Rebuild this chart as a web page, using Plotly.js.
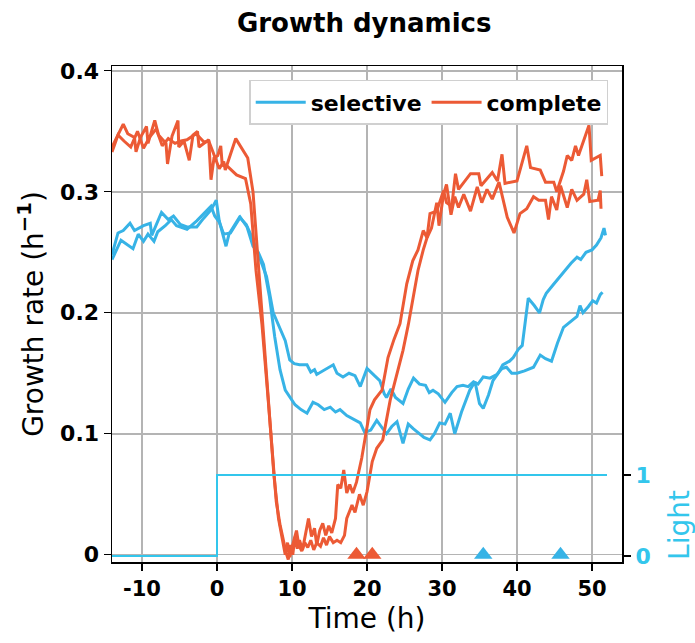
<!DOCTYPE html>
<html>
<head>
<meta charset="utf-8">
<script src="https://cdn.plot.ly/plotly-3.0.1.min.js"></script>
<style>html,body{margin:0;padding:0;background:#fff;}#chart{width:695px;height:643px;}</style>
</head>
<body>
<div id="chart"></div>
<script>
// ---- data ----
const completeA_t = [-14,-12.5,-11.9,-11.0,-10.8,-10.2,-9.4,-9.2,-8.3,-7.8,-6.8,-6.6,-6.0,-5.2,-5.1,-4.4,-3.7,-3.2,-2.6,-2.4,-1.1,-0.8,-0.4,0.1,0.5,0.7,1.4,2.1,2.6,3.8,4.5,5.2,6.0,6.8,7.3,7.9,8.4,8.8,9.2,9.5,9.8,10.1,10.4,10.7,11.0,11.4,11.8,12.2,12.6,13.0,13.3,13.7,14.1,14.5,14.9,15.3,15.8,16.1,16.5,16.9,17.3,17.7,18.1,18.6,19.3,19.7,20.4,21.0,22.0,22.8,23.6,24.4,25.3,26.1,26.8,27.5,28.0,28.4,29.3,30.2,30.6,31.3,31.8,32.2,32.7,33.8,34.9,35.2,36.7,37.4,38.0,38.4,40.0,41.3,41.8,43.1,43.8,44.9,45.3,46.2,46.7,47.3,47.8,48.2,49.6,49.9,51.1,51.3];
const completeA_v = [0.337,0.356,0.348,0.345,0.333,0.345,0.354,0.340,0.359,0.347,0.340,0.323,0.346,0.359,0.337,0.342,0.326,0.347,0.350,0.337,0.343,0.310,0.328,0.330,0.338,0.322,0.321,0.317,0.314,0.311,0.290,0.235,0.190,0.130,0.090,0.044,0.025,0.012,0.002,-0.004,0.008,0.000,0.015,0.005,0.012,0.004,0.018,0.030,0.015,0.022,0.008,0.020,0.026,0.016,0.024,0.018,0.030,0.058,0.055,0.070,0.051,0.058,0.051,0.060,0.080,0.095,0.120,0.128,0.136,0.163,0.178,0.191,0.224,0.243,0.252,0.268,0.262,0.282,0.284,0.301,0.291,0.288,0.315,0.302,0.306,0.315,0.315,0.305,0.316,0.309,0.331,0.307,0.309,0.338,0.320,0.318,0.308,0.308,0.300,0.317,0.330,0.326,0.338,0.330,0.355,0.326,0.330,0.313];

const completeB_t = [-14,-13.2,-12.4,-11.5,-10.6,-9.8,-9.0,-8.1,-7.3,-6.5,-5.6,-4.8,-4.0,-2.8,-1.7,-1.1,-0.6,0.3,0.9,1.1,2.5,4.1,4.8,5.5,6.2,7.0,7.6,8.2,8.7,9.1,9.4,9.7,10.0,10.3,10.6,10.9,11.3,11.7,12.1,12.5,12.9,13.3,13.8,14.2,14.6,15.0,15.5,16.0,16.5,17.0,17.3,18.0,18.4,19.0,19.5,20.0,20.7,21.3,22.1,23.1,24.0,24.8,25.5,26.1,26.8,27.5,28.0,28.6,29.3,29.6,30.2,30.6,31.2,31.7,32.2,32.9,33.8,34.7,35.3,36.0,36.7,37.6,38.7,39.6,40.4,41.3,42.2,42.9,43.8,44.2,44.6,45.3,45.8,46.7,47.3,48.0,48.9,49.3,49.7,50.8,51.1,51.2];
const completeB_v = [0.333,0.347,0.342,0.337,0.350,0.336,0.345,0.352,0.338,0.344,0.340,0.342,0.343,0.348,0.341,0.342,0.334,0.319,0.325,0.318,0.344,0.328,0.300,0.240,0.180,0.110,0.065,0.030,0.012,0.000,0.010,-0.002,0.006,0.012,0.020,0.008,0.003,0.010,0.006,0.012,0.004,0.010,0.007,0.014,0.008,0.015,0.010,0.012,0.010,0.016,0.030,0.041,0.035,0.050,0.041,0.052,0.077,0.088,0.095,0.128,0.150,0.169,0.190,0.210,0.235,0.252,0.262,0.270,0.291,0.272,0.298,0.306,0.281,0.296,0.287,0.298,0.284,0.304,0.291,0.302,0.294,0.308,0.279,0.266,0.282,0.286,0.296,0.293,0.293,0.277,0.296,0.285,0.305,0.287,0.302,0.293,0.298,0.310,0.292,0.293,0.301,0.286];

const selectiveA_t = [-14,-13.2,-12.5,-11.6,-11.0,-9.8,-8.9,-8.7,-7.4,-6.5,-5.8,-4.9,-4.0,-2.7,-1.8,-0.8,-0.1,0.3,1.2,1.6,3.0,3.9,4.7,5.7,6.6,7.5,8.3,9.1,9.7,10.3,11.0,12.0,12.5,13.0,13.3,14.2,15.0,15.5,16.0,16.8,17.6,18.4,19.1,20.0,21.0,21.7,22.3,22.6,23.2,23.8,24.8,25.5,26.2,27.0,27.8,28.3,28.8,29.5,30.4,31.3,32.0,32.8,33.5,34.2,34.8,35.5,36.4,37.3,38.0,38.6,39.3,40.0,41.0,42.2,43.1,43.8,44.6,45.4,46.2,47.0,48.0,48.4,48.8,49.5,50.1,50.6,51.1,51.4];
const selectiveA_v = [0.248,0.266,0.268,0.274,0.268,0.272,0.274,0.264,0.283,0.277,0.280,0.273,0.271,0.271,0.278,0.285,0.293,0.276,0.255,0.265,0.279,0.273,0.262,0.246,0.230,0.200,0.188,0.177,0.161,0.158,0.157,0.157,0.151,0.153,0.149,0.152,0.155,0.157,0.150,0.147,0.150,0.148,0.139,0.154,0.148,0.144,0.133,0.130,0.137,0.130,0.125,0.137,0.146,0.141,0.140,0.134,0.136,0.133,0.126,0.134,0.139,0.140,0.139,0.143,0.141,0.147,0.146,0.149,0.154,0.155,0.150,0.150,0.152,0.155,0.165,0.162,0.160,0.175,0.188,0.192,0.197,0.206,0.200,0.205,0.210,0.208,0.215,0.217];

const selectiveB_t = [-14,-13.4,-12.8,-11.2,-10.5,-9.8,-9.2,-8.4,-7.9,-6.9,-6.1,-5.4,-4.0,-2.7,-1.4,-0.8,-0.3,0.3,0.9,1.8,3.1,4.0,4.8,5.5,6.2,7.0,7.7,8.4,9.1,10.4,11.2,12.0,12.8,13.5,14.3,15.1,15.8,16.4,17.3,18.2,19.1,19.7,20.5,21.3,22.0,22.6,23.3,24.0,24.8,25.5,26.2,27.0,27.6,28.4,29.0,29.7,30.4,31.1,31.7,32.6,33.7,34.4,35.0,35.5,36.2,36.8,37.5,38.1,39.0,39.5,40.2,40.7,41.5,42.3,43.0,43.5,43.9,44.8,45.7,46.5,47.2,48.0,48.5,49.2,50.0,50.6,51.2,51.6,51.8];
const selectiveB_v = [0.244,0.252,0.260,0.253,0.265,0.259,0.265,0.259,0.267,0.272,0.277,0.272,0.269,0.276,0.284,0.288,0.280,0.275,0.265,0.266,0.279,0.271,0.255,0.250,0.240,0.213,0.180,0.153,0.136,0.124,0.120,0.117,0.126,0.124,0.120,0.122,0.118,0.120,0.115,0.112,0.109,0.101,0.103,0.111,0.105,0.100,0.106,0.110,0.092,0.108,0.104,0.100,0.097,0.095,0.100,0.109,0.108,0.117,0.100,0.118,0.136,0.143,0.125,0.121,0.132,0.144,0.150,0.157,0.160,0.163,0.170,0.173,0.212,0.206,0.200,0.211,0.216,0.223,0.230,0.236,0.241,0.246,0.244,0.250,0.252,0.256,0.262,0.270,0.264];

const light_t = [-14, 0, 52];
const light_v = [0, 1, 1];

const markComplete_t = [18.6, 20.7];
const markSelective_t = [35.5, 45.8];
const mark_v = [0, 0];

const xTicks = [-10, 0, 10, 20, 30, 40, 50];
const yTicks = [0, 0.1, 0.2, 0.3, 0.4];
const yTickText = ['0', '0.1', '0.2', '0.3', '0.4'];

// ---- style ----
const BLUE = '#37b3e6';
const RED = '#ec5a35';
const CYAN = '#33c6ec';
const FONT = '"DejaVu Sans", sans-serif';
const LW = 3;

const traces = [
  {x: light_t, y: light_v, yaxis: 'y2', mode: 'lines', line: {color: CYAN, width: 2, shape: 'hv'}, showlegend: false, hoverinfo: 'skip'},
  {x: selectiveA_t, y: selectiveA_v, mode: 'lines', name: 'selective', line: {color: BLUE, width: LW}},
  {x: selectiveB_t, y: selectiveB_v, mode: 'lines', name: 'selective', line: {color: BLUE, width: LW}, showlegend: false},
  {x: completeA_t, y: completeA_v, mode: 'lines', name: 'complete', line: {color: RED, width: LW}},
  {x: completeB_t, y: completeB_v, mode: 'lines', name: 'complete', line: {color: RED, width: LW}, showlegend: false},
  {x: markComplete_t, y: mark_v, mode: 'markers', marker: {symbol: 'triangle-up', size: 16, color: RED}, showlegend: false, cliponaxis: false},
  {x: markSelective_t, y: mark_v, mode: 'markers', marker: {symbol: 'triangle-up', size: 16, color: BLUE}, showlegend: false, cliponaxis: false}
];

const layout = {
  width: 695, height: 643,
  margin: {l: 112, r: 73, t: 66, b: 81},
  paper_bgcolor: '#fff', plot_bgcolor: '#fff',
  font: {family: FONT, color: '#000'},
  title: {text: '<b>Growth dynamics</b>', font: {size: 26, family: FONT}, x: 0.524, xanchor: 'center', y: 0.965, yanchor: 'middle'},
  xaxis: {
    range: [-14, 54], tickvals: xTicks, ticktext: xTicks.map(String),
    showgrid: true, gridcolor: '#b4b4b4', gridwidth: 1.5,
    zeroline: false, showline: true, linecolor: '#000', linewidth: 1.5, mirror: true,
    ticks: 'outside', ticklen: 7, tickwidth: 1.3, tickcolor: '#000',
    tickfont: {size: 21, family: FONT, weight: 'bold'},
    title: {text: 'Time (h)', font: {size: 28, family: FONT}, standoff: 8}
  },
  yaxis: {
    range: [-0.006, 0.404], tickvals: yTicks, ticktext: yTickText,
    showgrid: true, gridcolor: '#b4b4b4', gridwidth: 1.5,
    zeroline: false, showline: true, linecolor: '#000', linewidth: 1.5, mirror: true,
    ticks: 'outside', ticklen: 7, tickwidth: 1.3, tickcolor: '#000',
    tickfont: {size: 22, family: FONT, weight: 'bold'},
    title: {text: 'Growth rate (h<sup><b>−1</b></sup>)', font: {size: 28, family: FONT}, standoff: 8}
  },
  yaxis2: {
    overlaying: 'y', side: 'right', range: [-0.074, 6.05],
    tickvals: [0, 1], ticktext: ['0', '1'],
    showgrid: false, zeroline: false, showline: false,
    ticks: 'outside', ticklen: 8, tickwidth: 1.3, tickcolor: '#000',
    tickfont: {size: 22, family: FONT, weight: 'bold', color: CYAN}
  },
  annotations: [{
    text: 'Light', xref: 'paper', yref: 'paper', x: 1.114, y: 0.075,
    xanchor: 'center', yanchor: 'middle', textangle: -90, showarrow: false,
    font: {size: 28, family: FONT, color: CYAN}
  }],
  legend: {
    orientation: 'h', x: 0.973, xanchor: 'right', y: 0.972, yanchor: 'top',
    bgcolor: '#fff', bordercolor: '#d0d0d0', borderwidth: 1.5,
    font: {size: 22, family: FONT, weight: 'bold'}, itemwidth: 50
  },
  showlegend: true
};

Plotly.newPlot('chart', traces, layout, {displayModeBar: false, staticPlot: true});
</script>
</body>
</html>
